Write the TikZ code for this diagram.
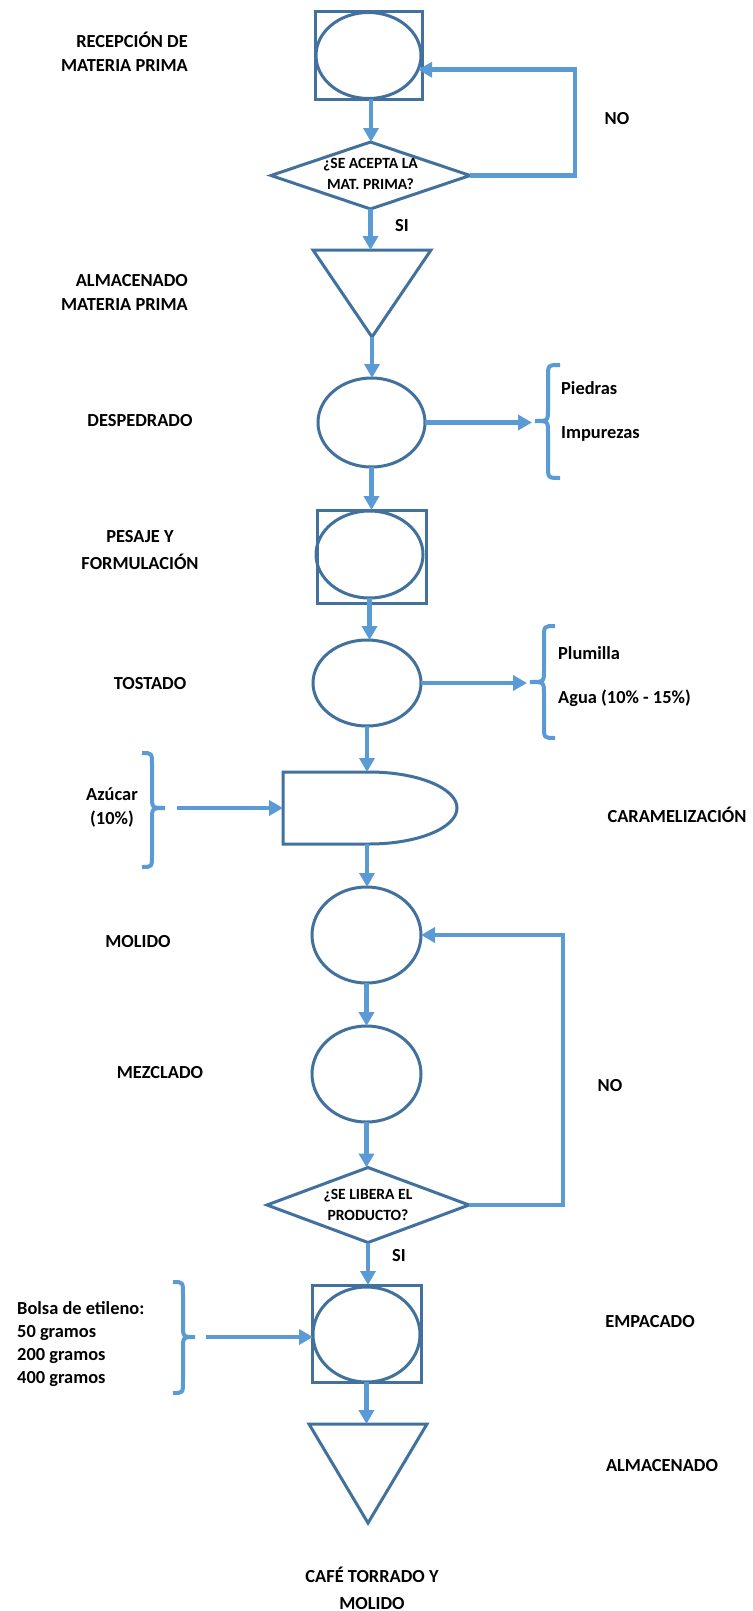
\documentclass[tikz,border=0pt]{standalone}
\usepackage{fontspec}
\setmainfont{Carlito}
\usetikzlibrary{shapes.geometric,arrows.meta}
\definecolor{shapeblue}{HTML}{41719C}
\definecolor{flowblue}{HTML}{5B9BD5}
\begin{document}
\begin{tikzpicture}[x=1pt,y=-1pt,
  shp/.style={draw=shapeblue,line width=3pt},
  flow/.style={draw=flowblue,line width=4.5pt,-{Triangle[length=14pt,width=15pt]}},
  brc/.style={draw=flowblue,line width=4pt},
  lbl/.style={font=\fontsize{18.4}{24}\selectfont\bfseries,inner sep=0pt,align=center},
  qlbl/.style={font=\fontsize{15.6}{21}\selectfont\bfseries,inner sep=0pt,align=center},
  oval/.style={shp,ellipse,inner sep=0pt,outer sep=0pt},
  sq/.style={shp,rectangle,inner sep=0pt,outer sep=0pt},
  dmd/.style={shp,diamond,inner sep=0pt,outer sep=0pt},
  frame/.style={rectangle,inner sep=0pt,outer sep=0pt}
]
\useasboundingbox[fill=white] (0,0) rectangle (752,1611);

% ---- process symbols ----
\node[sq,minimum width=107pt,minimum height=87pt] (recbox) at (368.5,55.5) {};
\node[oval,minimum width=105pt,minimum height=86pt] (rec) at (368.5,55.5) {};
\node[dmd,minimum width=199pt,minimum height=67pt] (d1) at (370.5,175.5) {};
\node[qlbl] (q1) at (370.5,174) {¿SE ACEPTA LA\\MAT. PRIMA?};

\node[frame,minimum width=118pt,minimum height=87pt] (alm1) at (372,293.5) {};
\draw[shp] (alm1.north west) -- (alm1.north east) -- (alm1.south) -- cycle;

\node[oval,minimum width=107pt,minimum height=89pt] (desp) at (371.5,422.5) {};

\node[sq,minimum width=109pt,minimum height=93pt] (pesbox) at (371.5,556.5) {};
\node[oval,minimum width=107pt,minimum height=87pt] (pes) at (369.5,554.5) {};

\node[oval,minimum width=108pt,minimum height=86pt] (tos) at (367,683) {};

\node[frame,minimum width=174pt,minimum height=72pt] (car) at (370,808) {};
\draw[shp] (369,772) -- (283,772) -- (283,844) -- (369,844)
  .. controls (417.6,844) and (457,827.9) .. (457,808)
  .. controls (457,788.1) and (417.6,772) .. (369,772) -- cycle;

\node[oval,minimum width=109pt,minimum height=96pt] (mol) at (366.5,935) {};
\node[oval,minimum width=109pt,minimum height=96pt] (mez) at (366.5,1074) {};

\node[dmd,minimum width=202pt,minimum height=75pt] (d2) at (368,1205) {};
\node[qlbl] (q2) at (368,1204.5) {¿SE LIBERA EL\\PRODUCTO?};

\node[sq,minimum width=109pt,minimum height=97pt] (empbox) at (366.5,1333.5) {};
\node[oval,minimum width=107pt,minimum height=95pt] (emp) at (366.5,1334.5) {};

\node[frame,minimum width=118pt,minimum height=99pt] (alm2) at (368,1473.5) {};
\draw[shp] (alm2.north west) -- (alm2.north east) -- (alm2.south) -- cycle;

% ---- braces ----
\draw[brc] (560,365) .. controls (548,365) .. (548,377) -- (548,409)
  .. controls (548,421) .. (535,421) .. controls (548,421) .. (548,433)
  -- (548,466) .. controls (548,478) .. (560,478);
\coordinate (b1in) at (532,421);
\draw[brc] (555,626) .. controls (544,626) .. (544,638) -- (544,670)
  .. controls (544,682) .. (530,682) .. controls (544,682) .. (544,694)
  -- (544,726) .. controls (544,738) .. (555,738);
\coordinate (b2in) at (527,682);
\draw[brc] (142,753) .. controls (152,753) .. (152,765) -- (152,796)
  .. controls (152,808) .. (165,808) .. controls (152,808) .. (152,820)
  -- (152,855) .. controls (152,867) .. (142,867);
\coordinate (b3out) at (177,808);
\draw[brc] (173,1282) .. controls (183,1282) .. (183,1294) -- (183,1325)
  .. controls (183,1337) .. (195,1337) .. controls (183,1337) .. (183,1349)
  -- (183,1381) .. controls (183,1393) .. (173,1393);
\coordinate (b4out) at (206,1337);

% ---- connectors ----
\draw[flow] (recbox.south -| 371,0) -- (d1.north -| 371,0);
\draw[flow] (d1.south) -- (d1.south |- alm1.north);
\draw[flow] (alm1.south) -- (alm1.south |- desp.north);
\draw[flow] (desp.south) -- (desp.south |- pesbox.north);
\draw[flow] (pes.south) -- (pes.south |- tos.north);
\draw[flow] (tos.south) -- (tos.south |- car.north);
\draw[flow] (tos.south |- car.south) -- (tos.south |- mol.north);
\draw[flow] (mol.south) -- (mez.north);
\draw[flow] (mez.south) -- (mez.south |- d2.north);
\draw[flow] (d2.south) -- (d2.south |- empbox.north);
\draw[flow] (emp.south) -- (emp.south |- alm2.north);

\draw[flow] (d1.east) -- ++(105,0) |- (rec.-16);
\draw[flow] (d2.east) -- ++(94,0) |- (mol.east);

\draw[flow] (desp.east) -- (desp.east -| b1in);
\draw[flow] (tos.east) -- (tos.east -| b2in);
\draw[flow] (b3out) -- (b3out -| car.west);
\draw[flow] (b4out) -- (b4out -| emp.west);

% ---- labels ----
\node[lbl,align=right,anchor=east] (reclbl) at (188,52) {RECEPCIÓN DE\\MATERIA PRIMA};
\node[lbl,align=right,anchor=east] (alm1lbl) at (188,292) {ALMACENADO\\MATERIA PRIMA};
\node[lbl] (desplbl) at (140,421) {DESPEDRADO};
\node[lbl] (peslbl) at (140,550) {PESAJE Y\\[3pt]FORMULACIÓN};
\node[lbl] (toslbl) at (150,684) {TOSTADO};
\node[lbl] (azlbl) at (112,808) {Azúcar\\(10\%)};
\node[lbl] (carlbl) at (677,815) {CARAMELIZACIÓN};
\node[lbl] (mollbl) at (138,942) {MOLIDO};
\node[lbl] (mezlbl) at (160,1073) {MEZCLADO};
\node[lbl] (no1) at (617,119) {NO};
\node[lbl] (si1) at (402,226) {SI};
\node[lbl] (no2) at (610,1086) {NO};
\node[lbl] (si2) at (399,1256) {SI};
\node[lbl,anchor=west] (piedras) at (561,388) {Piedras};
\node[lbl,anchor=west] (impurezas) at (561,434) {Impurezas};
\node[lbl,anchor=west] (plumilla) at (558,653) {Plumilla};
\node[lbl,anchor=west] (agua) at (558,698) {Agua (10\% - 15\%)};
\node[lbl,align=left,anchor=west,font=\fontsize{18.4}{23}\selectfont\bfseries] (bolsa) at (17,1344.5)
  {Bolsa de etileno:\\50 gramos\\200 gramos\\400 gramos};
\node[lbl] (emplbl) at (650,1322) {EMPACADO};
\node[lbl] (alm2lbl) at (662,1466) {ALMACENADO};
\node[lbl] (cafe) at (372,1588) {CAFÉ TORRADO Y\\[3pt]MOLIDO};
\end{tikzpicture}
\end{document}
